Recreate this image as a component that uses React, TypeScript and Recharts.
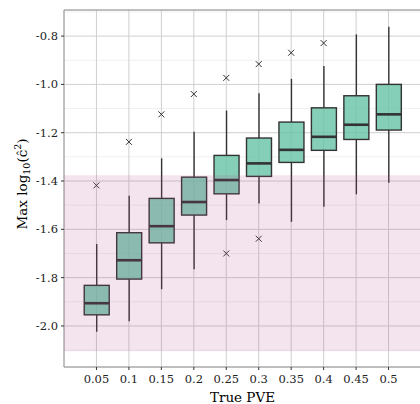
import {ComposedChart, CartesianGrid, XAxis, YAxis, Bar, Scatter, ReferenceArea, ReferenceLine} from 'recharts';

const pve = [0.05, 0.1, 0.15, 0.2, 0.25, 0.3, 0.35, 0.4, 0.45, 0.5];
const whiskerLow = [-2.024, -1.981, -1.848, -1.765, -1.562, -1.493, -1.569, -1.507, -1.455, -1.407];
const q1 = [-1.954, -1.806, -1.656, -1.541, -1.453, -1.381, -1.323, -1.273, -1.228, -1.189];
const median = [-1.906, -1.728, -1.587, -1.487, -1.396, -1.327, -1.271, -1.217, -1.167, -1.124];
const q3 = [-1.832, -1.614, -1.472, -1.384, -1.294, -1.222, -1.156, -1.097, -1.047, -1.0];
const whiskerHigh = [-1.661, -1.461, -1.306, -1.196, -1.108, -1.037, -0.977, -0.924, -0.793, -0.761];
const outlierHigh = [-1.418, -1.238, -1.124, -1.04, -0.973, -0.916, -0.869, -0.829, null, null];
const outlierLow = [null, null, null, null, -1.7, -1.639, null, null, null, null];

const xDomain = [0, 0.55];
const yTicks = [-2.0, -1.8, -1.6, -1.4, -1.2, -1.0, -0.8];
const yMinor = [-2.1, -1.9, -1.7, -1.5, -1.3, -1.1, -0.9, -0.7];
const yDomain = [-2.17, -0.692];
const bandLow = -2.105;
const bandHigh = -1.376;

const data = pve.map((p, i) => ({
    pve: p,
    wl: whiskerLow[i],
    q1: q1[i],
    med: median[i],
    q3: q3[i],
    wh: whiskerHigh[i],
    outHi: outlierHigh[i],
    outLo: outlierLow[i],
}));

// Liberation Serif is not picked up in the sandbox, DejaVu Serif is
const font = 'DejaVu Serif';
const edge = '#333333';

function BoxShape(props: any) {
    const {x, y, width, height, payload} = props;
    if (!payload || !isFinite(y) || !isFinite(height)) return <g/>;
    const top = Math.min(y, y + height);
    const h = Math.abs(height);
    const k = h / (payload.wh - payload.wl);
    const yOf = (v: number) => top + (payload.wh - v) * k;
    const cx = x + width / 2;
    return (
        <g>
            <line x1={cx} x2={cx} y1={yOf(payload.wh)} y2={yOf(payload.q3)} stroke={edge} strokeWidth={1.4}/>
            <line x1={cx} x2={cx} y1={yOf(payload.q1)} y2={yOf(payload.wl)} stroke={edge} strokeWidth={1.4}/>
            <rect x={x} y={yOf(payload.q3)} width={width} height={yOf(payload.q1) - yOf(payload.q3)}
                  fill="#66c2a5" fillOpacity={0.8} stroke={edge} strokeWidth={1.4}/>
            <line x1={x} x2={x + width} y1={yOf(payload.med)} y2={yOf(payload.med)} stroke={edge} strokeWidth={2.6}/>
        </g>
    );
}

function Cross(props: any) {
    const {cx, cy} = props;
    if (!isFinite(cx) || !isFinite(cy)) return <g/>;
    const s = 3;
    return (
        <g stroke={edge} strokeWidth={1}>
            <line x1={cx - s} y1={cy - s} x2={cx + s} y2={cy + s}/>
            <line x1={cx - s} y1={cy + s} x2={cx + s} y2={cy - s}/>
        </g>
    );
}

function YLabel() {
    return (
        <text x={27} y={184} transform="rotate(-90, 27, 184)" textAnchor="middle"
              fontFamily={font} fontSize={13.5} fill="#000">
            Max log<tspan fontSize={9.5} dy={3}>10</tspan><tspan dy={-3}>(ĉ</tspan><tspan fontSize={9.5} dy={-6}>2</tspan><tspan dy={6}>)</tspan>
        </text>
    );
}

function XLabel(props: any) {
    const vb = props.viewBox || {};
    return (
        <text x={vb.x + vb.width / 2} y={vb.y + vb.height - 2} textAnchor="middle"
              fontFamily={font} fontSize={13.5} fill="#000">
            True PVE
        </text>
    );
}

const tickStyle = {fontSize: 11.5, fill: '#222', fontFamily: font};

function App() {
    return (
        <div style={{position: 'absolute', left: 0, top: 0, width: 420, height: 404, overflow: 'hidden', background: '#fff'}}>
            <ComposedChart width={425} height={404} data={data} margin={{top: 10, right: 4, left: 0, bottom: 0}}>
                <CartesianGrid yAxisId="minor" stroke="#f0f0f0" strokeWidth={1} vertical={false}/>
                <CartesianGrid stroke="#cfcfcf" strokeWidth={1}/>
                <XAxis dataKey="pve" type="number" domain={xDomain} ticks={pve} allowDataOverflow height={37}
                       tickFormatter={(v: number) => String(v)}
                       tick={tickStyle} tickSize={3} tickMargin={5}
                       tickLine={{stroke: edge}} axisLine={{stroke: '#9a9a9a'}} label={<XLabel/>}/>
                <YAxis type="number" domain={yDomain} ticks={yTicks} width={64} allowDataOverflow
                       tickFormatter={(v: number) => v.toFixed(1)}
                       tick={tickStyle} tickSize={3} tickMargin={3}
                       tickLine={{stroke: edge}} axisLine={{stroke: '#9a9a9a'}} label={<YLabel/>}/>
                <YAxis yAxisId="minor" type="number" domain={yDomain} ticks={yMinor} allowDataOverflow hide/>
                <ReferenceLine y={yDomain[1]} stroke="#9a9a9a" strokeWidth={1}/>
                <Bar dataKey={(d: any) => [d.wl, d.wh]} barSize={25} shape={<BoxShape/>} isAnimationActive={false}/>
                <Scatter dataKey="outHi" shape={<Cross/>} isAnimationActive={false}/>
                <Scatter dataKey="outLo" shape={<Cross/>} isAnimationActive={false}/>
                <ReferenceArea y1={bandLow} y2={bandHigh} fill="#b04a8e" fillOpacity={0.15}
                               stroke="none" ifOverflow="hidden" zIndex={1000}/>
            </ComposedChart>
        </div>
    );
}

export default App;
